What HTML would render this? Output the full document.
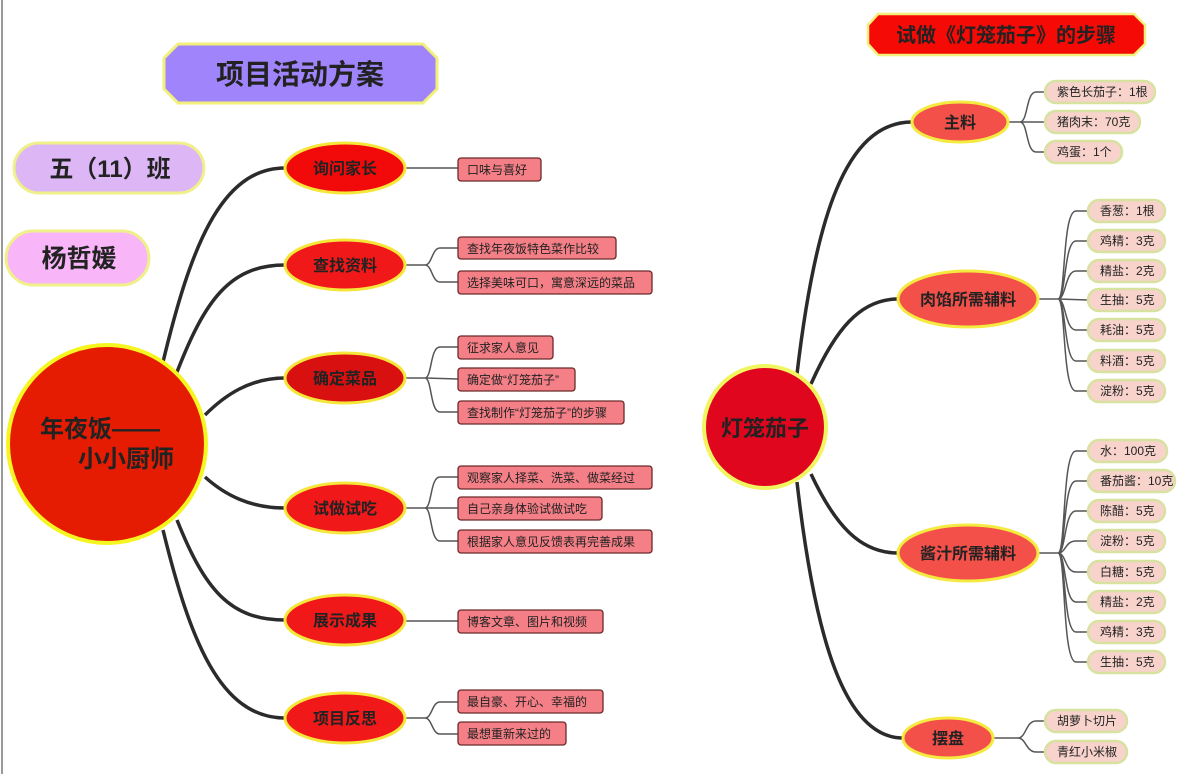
<!DOCTYPE html>
<html><head><meta charset="utf-8">
<style>
html,body{margin:0;padding:0;background:#fff;}
svg{display:block;font-family:"Liberation Sans","Noto Sans CJK SC",sans-serif;}
.b{font-weight:bold;fill:#222;}
.lf rect{fill:#f47f86;stroke:#6a2a2a;stroke-width:1.3;}
.lf text{font-size:12px;fill:#222;}
.rl rect{fill:#f8d3cc;stroke:#d8e2a0;stroke-width:2.5;}
.rl text{font-size:12px;fill:#222;}
.th{fill:none;stroke:#2b2b2b;stroke-width:3.5;}
.tn{fill:none;stroke:#555;stroke-width:1.5;}
</style></head><body>
<svg width="1200" height="774" viewBox="0 0 1200 774" xmlns="http://www.w3.org/2000/svg">
<line x1="2" y1="0" x2="2" y2="774" stroke="#999" stroke-width="2"/>
<!-- titles -->
<polygon points="178,44 423,44 437,58 437,89 423,103 178,103 164,89 164,58" fill="#9f84fb" stroke="#f2f07a" stroke-width="3"/>
<text x="300" y="84" text-anchor="middle" class="b" font-size="28">项目活动方案</text>
<rect x="14" y="143" width="190" height="50" rx="25" fill="#ddb6f6" stroke="#f0f08a" stroke-width="3"/>
<text x="110" y="177" text-anchor="middle" class="b" font-size="24">五（11）班</text>
<rect x="6" y="231" width="143" height="54" rx="27" fill="#f8b6f8" stroke="#f0f08a" stroke-width="3"/>
<text x="79" y="267" text-anchor="middle" class="b" font-size="25">杨哲媛</text>
<polygon points="878,14 1134,14 1145,25 1145,44 1134,55 878,55 868,44 868,25" fill="#f50a05" stroke="#f2f07a" stroke-width="2.5"/>
<text x="1006" y="42" text-anchor="middle" class="b" font-size="20">试做《灯笼茄子》的步骤</text>

<!-- left thick connectors -->
<path class="th" d="M163,362 C190,250 220,168 285,168"/>
<path class="th" d="M177,372 C205,300 230,265 285,265"/>
<path class="th" d="M205,415 C225,395 250,378 285,378"/>
<path class="th" d="M205,477 C225,495 250,508 285,508"/>
<path class="th" d="M177,520 C205,590 230,620 285,620"/>
<path class="th" d="M163,530 C190,640 220,718 285,718"/>

<!-- left thin connectors -->
<path class="tn" d="M405,168 L458,168"/>
<path class="tn" d="M405,265 L425,265 C432,265 432,248 440,248 L458,248 M425,265 C432,265 432,282 440,282 L458,282"/>
<path class="tn" d="M405,378 L425,378 M425,378 C432,378 430,347 440,347 L458,347 M425,378 L458,379 M425,378 C432,378 430,412 440,412 L458,412"/>
<path class="tn" d="M405,508 L425,508 M425,508 C432,508 430,477 440,477 L458,477 M425,508 L458,508 M425,508 C432,508 430,541 440,541 L458,541"/>
<path class="tn" d="M405,621 L458,621"/>
<path class="tn" d="M405,718 L425,718 C432,718 432,702 440,702 L458,702 M425,718 C432,718 432,734 440,734 L458,734"/>

<!-- left root -->
<circle cx="107" cy="444" r="99" fill="#e61c02" stroke="#f5f520" stroke-width="4"/>
<text x="40" y="437" class="b" font-size="24">年夜饭——</text>
<text x="78" y="467" class="b" font-size="24">小小厨师</text>

<!-- left branches -->
<g stroke="#f5e63a" stroke-width="3">
<ellipse cx="345" cy="168" rx="60" ry="25" fill="#f20a0a"/>
<ellipse cx="345" cy="265" rx="60" ry="25" fill="#f01818"/>
<ellipse cx="345" cy="378" rx="60" ry="25" fill="#d91010"/>
<ellipse cx="345" cy="508" rx="60" ry="25" fill="#f01818"/>
<ellipse cx="345" cy="620" rx="60" ry="25" fill="#f01818"/>
<ellipse cx="345" cy="718" rx="60" ry="25" fill="#f01818"/>
</g>
<g class="b" font-size="16" text-anchor="middle">
<text x="345" y="174">询问家长</text>
<text x="345" y="271">查找资料</text>
<text x="345" y="384">确定菜品</text>
<text x="345" y="514">试做试吃</text>
<text x="345" y="626">展示成果</text>
<text x="345" y="724">项目反思</text>
</g>

<!-- left leaves -->
<g class="lf">
<rect x="458" y="158" width="83" height="23" rx="3"/><text x="467" y="174">口味与喜好</text>
<rect x="458" y="237" width="158" height="22" rx="3"/><text x="467" y="253">查找年夜饭特色菜作比较</text>
<rect x="458" y="271" width="194" height="23" rx="3"/><text x="467" y="287">选择美味可口，寓意深远的菜品</text>
<rect x="458" y="336" width="95" height="23" rx="3"/><text x="467" y="352">征求家人意见</text>
<rect x="458" y="368" width="117" height="23" rx="3"/><text x="467" y="384">确定做“灯笼茄子”</text>
<rect x="458" y="401" width="166" height="23" rx="3"/><text x="467" y="417">查找制作“灯笼茄子”的步骤</text>
<rect x="458" y="466" width="194" height="23" rx="3"/><text x="467" y="482">观察家人择菜、洗菜、做菜经过</text>
<rect x="458" y="497" width="144" height="23" rx="3"/><text x="467" y="513">自己亲身体验试做试吃</text>
<rect x="458" y="530" width="194" height="23" rx="3"/><text x="467" y="546">根据家人意见反馈表再完善成果</text>
<rect x="458" y="610" width="145" height="23" rx="3"/><text x="467" y="626">博客文章、图片和视频</text>
<rect x="458" y="690" width="145" height="23" rx="3"/><text x="467" y="706">最自豪、开心、幸福的</text>
<rect x="458" y="722" width="108" height="23" rx="3"/><text x="467" y="738">最想重新来过的</text>
</g>

<!-- right thick connectors -->
<path class="th" d="M797,374 C815,220 845,122 912,122"/>
<path class="th" d="M811,384 C835,330 860,299 898,299"/>
<path class="th" d="M811,474 C835,525 860,553 898,553"/>
<path class="th" d="M797,482 C815,640 845,738 903,738"/>

<!-- right thin connectors -->
<path class="tn" d="M1008,122 L1020,122 M1020,122 C1028,122 1026,92 1036,92 L1045,92 M1020,122 L1045,122 M1020,122 C1028,122 1026,152 1036,152 L1045,152"/>
<path class="tn" d="M1038,299 L1058,299 M1058,299 C1066,299 1062,211 1076,211 L1088,211 M1058,299 C1066,299 1064,241 1076,241 L1088,241 M1058,299 C1066,299 1065,271 1076,271 L1088,271 M1058,299 L1088,300 M1058,299 C1066,299 1065,330 1076,330 L1088,330 M1058,299 C1066,299 1064,361 1076,361 L1088,361 M1058,299 C1066,299 1062,391 1076,391 L1088,391"/>
<path class="tn" d="M1038,553 L1058,553 M1058,553 C1066,553 1062,451 1076,451 L1088,451 M1058,553 C1066,553 1063,481 1076,481 L1088,481 M1058,553 C1066,553 1064,511 1076,511 L1088,511 M1058,553 C1066,553 1065,541 1076,541 L1088,541 M1058,553 C1066,553 1065,572 1076,572 L1088,572 M1058,553 C1066,553 1064,602 1076,602 L1088,602 M1058,553 C1066,553 1063,632 1076,632 L1088,632 M1058,553 C1066,553 1062,662 1076,662 L1088,662"/>
<path class="tn" d="M993,738 L1018,738 M1018,738 C1026,738 1026,721 1036,721 L1045,721 M1018,738 C1026,738 1026,752 1036,752 L1045,752"/>

<!-- right root -->
<circle cx="765" cy="427" r="61" fill="#e0061e" stroke="#f0f560" stroke-width="4"/>
<text x="765" y="436" text-anchor="middle" class="b" font-size="22">灯笼茄子</text>

<g stroke="#f5ea40" stroke-width="3" fill="#f4504a">
<ellipse cx="960" cy="122" rx="48" ry="20"/>
<ellipse cx="968" cy="299" rx="70" ry="28"/>
<ellipse cx="968" cy="553" rx="70" ry="28"/>
<ellipse cx="948" cy="738" rx="45" ry="20"/>
</g>
<g class="b" font-size="16" text-anchor="middle">
<text x="960" y="128">主料</text>
<text x="968" y="305">肉馅所需辅料</text>
<text x="968" y="559">酱汁所需辅料</text>
<text x="948" y="744">摆盘</text>
</g>

<g class="rl">
<rect x="1045" y="81" width="110" height="22" rx="11"/><text x="1057" y="96">紫色长茄子：1根</text>
<rect x="1045" y="111" width="95" height="22" rx="11"/><text x="1057" y="126">猪肉末：70克</text>
<rect x="1045" y="141" width="77" height="22" rx="11"/><text x="1057" y="156">鸡蛋：1个</text>

<rect x="1088" y="200" width="77" height="22" rx="11"/><text x="1100" y="215">香葱：1根</text>
<rect x="1088" y="230" width="77" height="22" rx="11"/><text x="1100" y="245">鸡精：3克</text>
<rect x="1088" y="260" width="77" height="22" rx="11"/><text x="1100" y="275">精盐：2克</text>
<rect x="1088" y="289" width="77" height="22" rx="11"/><text x="1100" y="304">生抽：5克</text>
<rect x="1088" y="319" width="77" height="22" rx="11"/><text x="1100" y="334">耗油：5克</text>
<rect x="1088" y="350" width="77" height="22" rx="11"/><text x="1100" y="365">料酒：5克</text>
<rect x="1088" y="380" width="77" height="22" rx="11"/><text x="1100" y="395">淀粉：5克</text>

<rect x="1088" y="440" width="79" height="22" rx="11"/><text x="1100" y="455">水：100克</text>
<rect x="1088" y="470" width="87" height="22" rx="11"/><text x="1100" y="485">番茄酱：10克</text>
<rect x="1088" y="500" width="77" height="22" rx="11"/><text x="1100" y="515">陈醋：5克</text>
<rect x="1088" y="530" width="77" height="22" rx="11"/><text x="1100" y="545">淀粉：5克</text>
<rect x="1088" y="561" width="77" height="22" rx="11"/><text x="1100" y="576">白糖：5克</text>
<rect x="1088" y="591" width="77" height="22" rx="11"/><text x="1100" y="606">精盐：2克</text>
<rect x="1088" y="621" width="77" height="22" rx="11"/><text x="1100" y="636">鸡精：3克</text>
<rect x="1088" y="651" width="77" height="22" rx="11"/><text x="1100" y="666">生抽：5克</text>

<rect x="1045" y="710" width="82" height="22" rx="11"/><text x="1057" y="725">胡萝卜切片</text>
<rect x="1045" y="741" width="82" height="22" rx="11"/><text x="1057" y="756">青红小米椒</text>
</g>
</svg>
</body></html>
